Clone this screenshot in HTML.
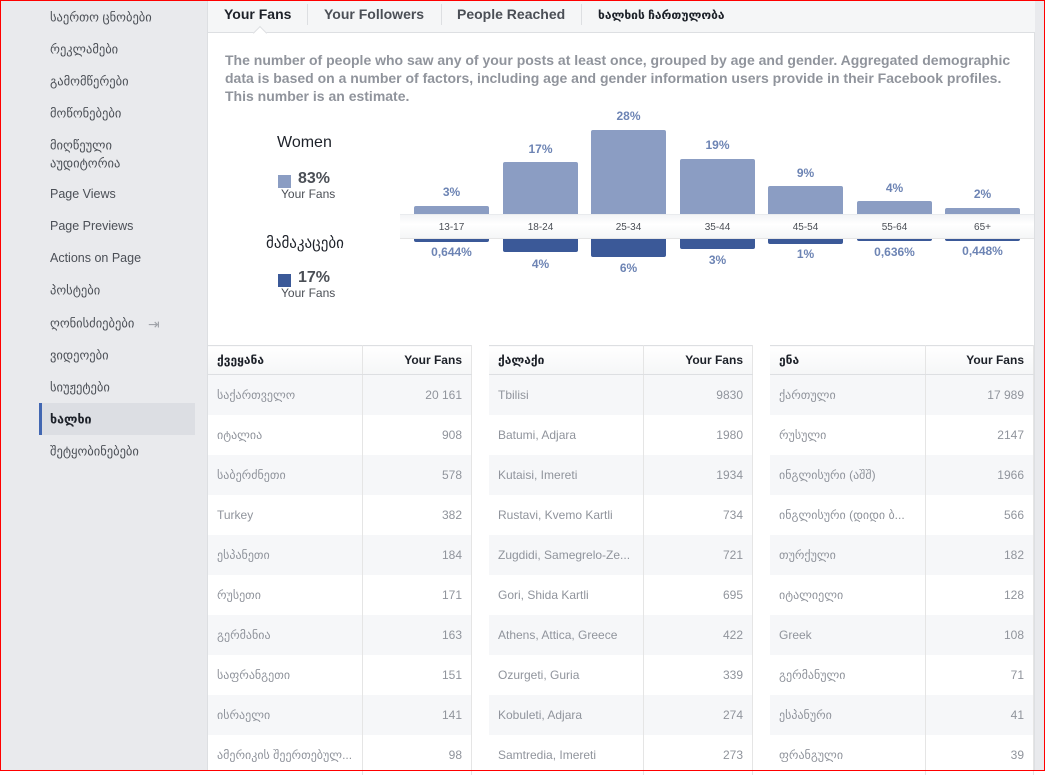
<!DOCTYPE html>
<html><head><meta charset="utf-8"><style>
*{margin:0;padding:0;box-sizing:border-box}
body{width:1045px;height:771px;overflow:hidden;position:relative;background:#fff;font-family:"Liberation Sans","DejaVu Sans",sans-serif}
.a{position:absolute;white-space:nowrap}
.side{left:0;top:0;width:208px;height:771px;background:#e9eaed;border-right:1px solid #dddfe2}
.si{left:50px;font-size:12.5px;color:#4b4f56;transform:translateY(-50%)}
.tabs{left:208px;top:0;width:827px;height:33px;background:#f5f6f7;border-bottom:1px solid #dddfe2}
.tab{top:6px;font-size:14px;font-weight:bold;color:#4b4f56}
.sep{top:4px;width:1px;height:21px;background:#dddfe2}
.desc{left:225px;top:51px;font-size:14px;font-weight:bold;color:#90949c;line-height:18px}
.bar{position:absolute;width:75px;background:#8b9dc3;border-radius:2px 2px 0 0}
.barm{position:absolute;width:75px;background:#3b5998;border-radius:0 0 2px 2px}
.v{position:absolute;width:75px;text-align:center;font-size:12px;font-weight:bold;color:#6d84b4;transform:translateY(-50%)}
.ag{position:absolute;width:75px;text-align:center;font-size:10px;color:#4b4f56;top:222px}
table{position:absolute;border-collapse:collapse;font-size:12px;top:345px}
td,th{height:40px;padding:0 9px;color:#90949c;border-right:1px solid #e5e5e5}
th{height:29px;color:#1d2129;font-weight:bold;background:linear-gradient(#fff,#f5f6f7);border-bottom:1px solid #dddfe2;border-top:1px solid #dddfe2}
td:last-child,th:last-child{text-align:right}
tr:nth-child(even) td{background:#f6f7f9}
</style></head><body>
<div class="a side"></div>
<div class="a" style="left:39px;top:403px;width:156px;height:32px;background:#dcdee3;border-left:3px solid #4267b2"></div>
<div class="a si" style="top:17px">საერთო ცნობები</div>
<div class="a si" style="top:49px">რეკლამები</div>
<div class="a si" style="top:81px">გამომწერები</div>
<div class="a si" style="top:113px">მოწონებები</div>
<div class="a si" style="top:145px">მიღწეული</div>
<div class="a si" style="top:163px">აუდიტორია</div>
<div class="a si" style="top:194px">Page Views</div>
<div class="a si" style="top:226px">Page Previews</div>
<div class="a si" style="top:258px">Actions on Page</div>
<div class="a si" style="top:290px">პოსტები</div>
<div class="a si" style="top:323px">ღონისძიებები</div>
<div class="a" style="left:148px;top:316px;font-size:14px;color:#a0a3a9">⇥</div>
<div class="a si" style="top:355px">ვიდეოები</div>
<div class="a si" style="top:387px">სიუჟეტები</div>
<div class="a si" style="top:419px;font-weight:bold;color:#1d2129">ხალხი</div>
<div class="a si" style="top:451px">შეტყობინებები</div>
<div class="a" style="left:1034px;top:0;width:11px;height:771px;background:#e9eaed;border-left:1px solid #dddfe2"></div>
<div class="a tabs"></div>
<div class="a tab" style="left:224px;color:#1d2129">Your Fans</div>
<div class="a sep" style="left:307px"></div>
<div class="a tab" style="left:324px">Your Followers</div>
<div class="a sep" style="left:441px"></div>
<div class="a tab" style="left:457px">People Reached</div>
<div class="a sep" style="left:581px"></div>
<div class="a tab" style="left:598px;font-size:12px;top:8px;color:#1d2129">ხალხის ჩართულობა</div>
<div class="a" style="left:255px;top:28px;width:10px;height:10px;background:#fff;border-left:1px solid #dddfe2;border-top:1px solid #dddfe2;transform:rotate(45deg)"></div>
<div class="a desc">The number of people who saw any of your posts at least once, grouped by age and gender. Aggregated demographic<br>data is based on a number of factors, including age and gender information users provide in their Facebook profiles.<br>This number is an estimate.</div>
<div class="a" style="left:277px;top:134px;font-size:16px;color:#1d2129">Women</div>
<div class="a" style="left:278px;top:175px;width:13px;height:13px;background:#8b9dc3"></div>
<div class="a" style="left:298px;top:170px;font-size:16px;font-weight:bold;color:#4b4f56">83%</div>
<div class="a" style="left:281px;top:187px;font-size:12px;color:#4b4f56">Your Fans</div>
<div class="a" style="left:266px;top:234px;font-size:15px;color:#1d2129">მამაკაცები</div>
<div class="a" style="left:278px;top:274px;width:13px;height:13px;background:#3b5998"></div>
<div class="a" style="left:298px;top:269px;font-size:16px;font-weight:bold;color:#4b4f56">17%</div>
<div class="a" style="left:281px;top:286px;font-size:12px;color:#4b4f56">Your Fans</div>
<div class="bar" style="left:414px;top:206px;height:9px"></div>
<div class="bar" style="left:503px;top:162px;height:53px"></div>
<div class="bar" style="left:591px;top:130px;height:85px"></div>
<div class="bar" style="left:680px;top:159px;height:56px"></div>
<div class="bar" style="left:768px;top:186px;height:29px"></div>
<div class="bar" style="left:857px;top:201px;height:14px"></div>
<div class="bar" style="left:945px;top:208px;height:7px"></div>
<div class="a" style="left:400px;top:214px;width:634px;height:25px;background:linear-gradient(#f3f4f6,#fff 40%,#f5f6f7);border-top:1px solid #e9ebee;border-bottom:1px solid #e5e5e5"></div>
<div class="barm" style="left:414px;top:239px;height:3px"></div>
<div class="barm" style="left:503px;top:239px;height:13px"></div>
<div class="barm" style="left:591px;top:239px;height:18px"></div>
<div class="barm" style="left:680px;top:239px;height:10px"></div>
<div class="barm" style="left:768px;top:239px;height:5px"></div>
<div class="barm" style="left:857px;top:239px;height:2px"></div>
<div class="barm" style="left:945px;top:239px;height:2px"></div>
<div class="ag" style="left:414px">13-17</div><div class="ag" style="left:503px">18-24</div><div class="ag" style="left:591px">25-34</div><div class="ag" style="left:680px">35-44</div><div class="ag" style="left:768px">45-54</div><div class="ag" style="left:857px">55-64</div><div class="ag" style="left:945px">65+</div>
<div class="v" style="left:414px;top:192px">3%</div><div class="v" style="left:503px;top:149px">17%</div><div class="v" style="left:591px;top:116px">28%</div><div class="v" style="left:680px;top:145px">19%</div><div class="v" style="left:768px;top:173px">9%</div><div class="v" style="left:857px;top:188px">4%</div><div class="v" style="left:945px;top:194px">2%</div>
<div class="v" style="left:414px;top:252px">0,644%</div><div class="v" style="left:503px;top:264px">4%</div><div class="v" style="left:591px;top:268px">6%</div><div class="v" style="left:680px;top:260px">3%</div><div class="v" style="left:768px;top:254px">1%</div><div class="v" style="left:857px;top:252px">0,636%</div><div class="v" style="left:945px;top:251px">0,448%</div>
<table style="left:208px;width:264px"><col style="width:154px"><col>
<tr><th style="text-align:left">ქვეყანა</th><th>Your Fans</th></tr>
<tr><td>საქართველო</td><td>20 161</td></tr><tr><td>იტალია</td><td>908</td></tr><tr><td>საბერძნეთი</td><td>578</td></tr><tr><td>Turkey</td><td>382</td></tr><tr><td>ესპანეთი</td><td>184</td></tr><tr><td>რუსეთი</td><td>171</td></tr><tr><td>გერმანია</td><td>163</td></tr><tr><td>საფრანგეთი</td><td>151</td></tr><tr><td>ისრაელი</td><td>141</td></tr><tr><td>ამერიკის შეერთებულ...</td><td>98</td></tr></table>
<table style="left:489px;width:264px"><col style="width:154px"><col>
<tr><th style="text-align:left">ქალაქი</th><th>Your Fans</th></tr>
<tr><td>Tbilisi</td><td>9830</td></tr><tr><td>Batumi, Adjara</td><td>1980</td></tr><tr><td>Kutaisi, Imereti</td><td>1934</td></tr><tr><td>Rustavi, Kvemo Kartli</td><td>734</td></tr><tr><td>Zugdidi, Samegrelo-Ze...</td><td>721</td></tr><tr><td>Gori, Shida Kartli</td><td>695</td></tr><tr><td>Athens, Attica, Greece</td><td>422</td></tr><tr><td>Ozurgeti, Guria</td><td>339</td></tr><tr><td>Kobuleti, Adjara</td><td>274</td></tr><tr><td>Samtredia, Imereti</td><td>273</td></tr></table>
<table style="left:770px;width:264px"><col style="width:155px"><col>
<tr><th style="text-align:left">ენა</th><th>Your Fans</th></tr>
<tr><td>ქართული</td><td>17 989</td></tr><tr><td>რუსული</td><td>2147</td></tr><tr><td>ინგლისური (აშშ)</td><td>1966</td></tr><tr><td>ინგლისური (დიდი ბ...</td><td>566</td></tr><tr><td>თურქული</td><td>182</td></tr><tr><td>იტალიელი</td><td>128</td></tr><tr><td>Greek</td><td>108</td></tr><tr><td>გერმანული</td><td>71</td></tr><tr><td>ესპანური</td><td>41</td></tr><tr><td>ფრანგული</td><td>39</td></tr></table>
<div class="a" style="left:0;top:0;width:1045px;height:771px;border:1px solid #f00"></div>
</body></html>
